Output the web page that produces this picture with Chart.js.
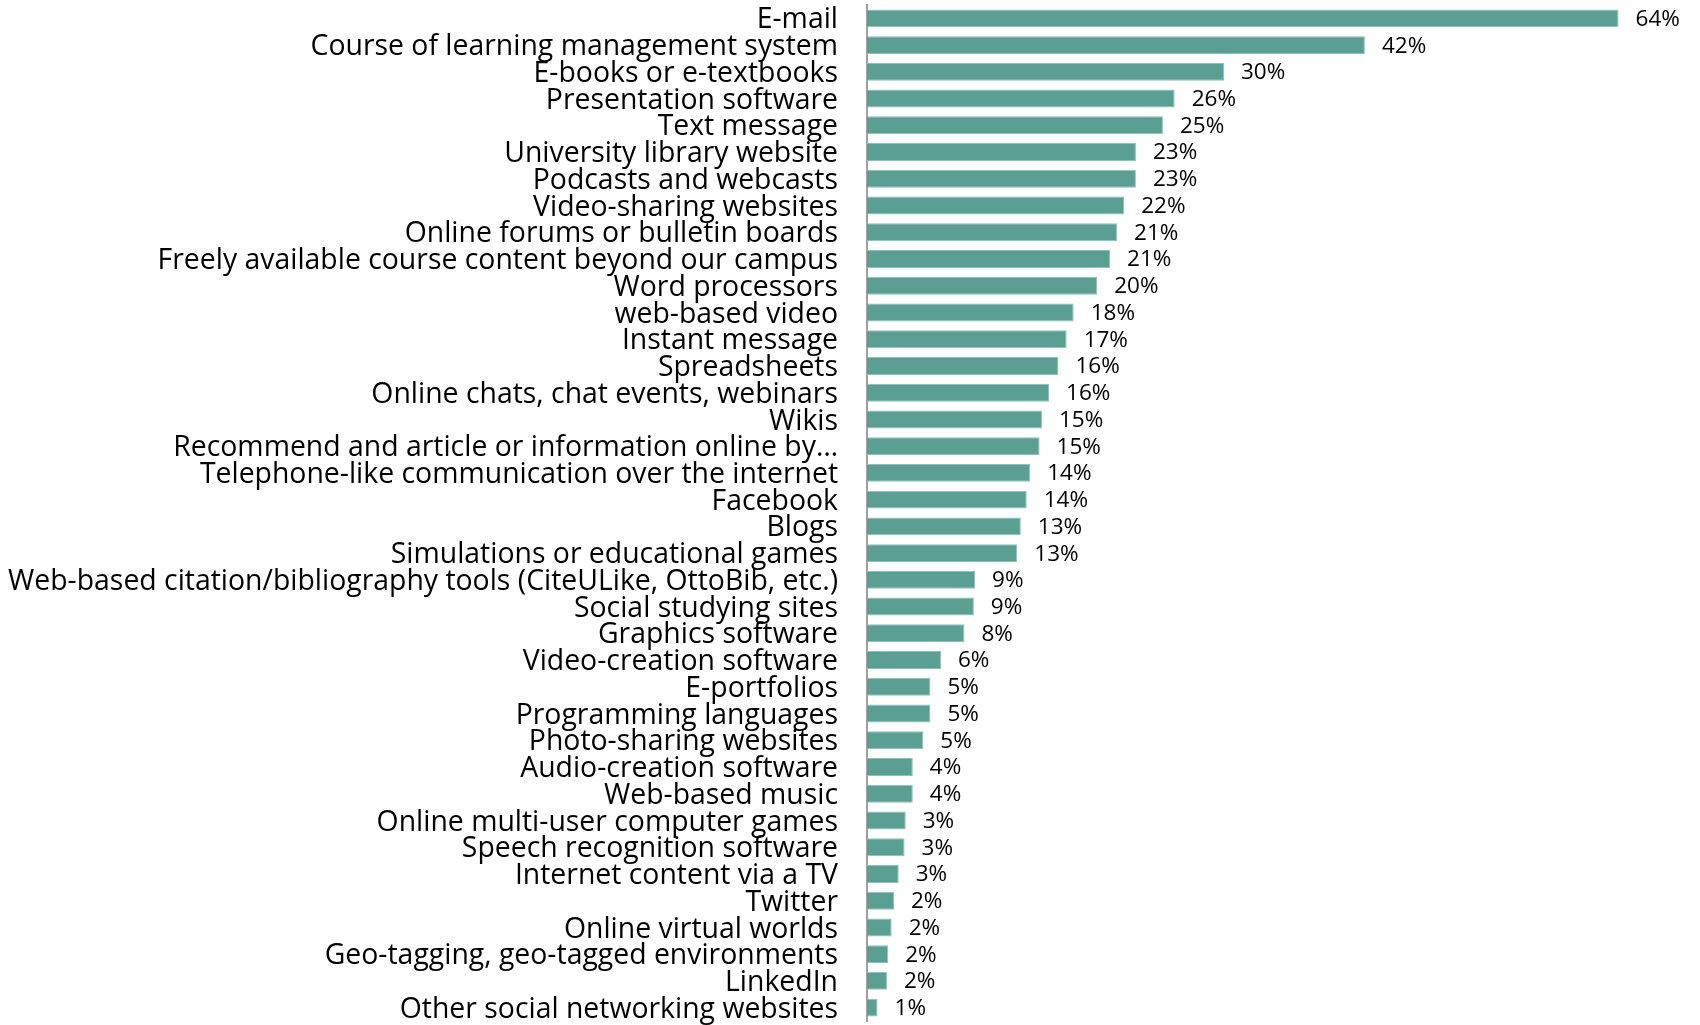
<!DOCTYPE html>
<html>
<head>
<meta charset="utf-8">
<script src="https://cdn.jsdelivr.net/npm/chart.js@4"></script>
<style>
html,body{margin:0;padding:0;background:#fff;}
#wrap{width:1700px;height:1025px;position:relative;}
</style>
</head>
<body>
<div id="wrap"><canvas id="c"></canvas></div>
<script>
const categories = [
"E-mail","Course of learning management system","E-books or e-textbooks","Presentation software",
"Text message","University library website","Podcasts and webcasts","Video-sharing websites",
"Online forums or bulletin boards","Freely available course content beyond our campus","Word processors",
"web-based video","Instant message","Spreadsheets","Online chats, chat events, webinars","Wikis",
"Recommend and article or information online by…","Telephone-like communication over the internet",
"Facebook","Blogs","Simulations or educational games",
"Web-based citation/bibliography tools (CiteULike, OttoBib, etc.)","Social studying sites",
"Graphics software","Video-creation software","E-portfolios","Programming languages",
"Photo-sharing websites","Audio-creation software","Web-based music","Online multi-user computer games",
"Speech recognition software","Internet content via a TV","Twitter","Online virtual worlds",
"Geo-tagging, geo-tagged environments","LinkedIn","Other social networking websites"
];
const values = [64,42.4,30.4,26.2,25.2,22.9,22.9,21.9,21.3,20.7,19.6,17.6,17.0,16.3,15.5,14.9,14.7,13.9,13.6,13.1,12.8,9.2,9.1,8.3,6.3,5.4,5.4,4.8,3.9,3.9,3.3,3.2,2.7,2.3,2.1,1.8,1.7,0.9];
const valueLabels = ["64%","42%","30%","26%","25%","23%","23%","22%","21%","21%","20%","18%","17%","16%","16%","15%","15%","14%","14%","13%","13%","9%","9%","8%","6%","5%","5%","5%","4%","4%","3%","3%","3%","2%","2%","2%","2%","1%"];

const labelFont = "'Open Sans', sans-serif";

const valueLabelPlugin = {
  id: 'valueLabels',
  afterDatasetsDraw(chart) {
    const ctx = chart.ctx;
    const meta = chart.getDatasetMeta(0);
    ctx.save();
    ctx.font = '22.5px ' + labelFont;
    ctx.fillStyle = '#000';
    ctx.textAlign = 'left';
    ctx.textBaseline = 'middle';
    meta.data.forEach((bar, i) => {
      ctx.fillText(valueLabels[i], bar.x + 17, bar.y + 1);
    });
    ctx.restore();
  }
};

new Chart(document.getElementById('c'), {
  type: 'bar',
  data: {
    labels: categories,
    datasets: [{
      data: values,
      backgroundColor: '#5b9f93',
      borderColor: '#8fc2b8',
      borderWidth: 1,
      barPercentage: 0.67,
      categoryPercentage: 1.0
    }]
  },
  options: {
    indexAxis: 'y',
    responsive: true,
    maintainAspectRatio: false,
    animation: false,
    layout: { padding: { top: 5, bottom: 4, right: 11, left: 0 } },
    plugins: { legend: { display: false }, tooltip: { enabled: false } },
    scales: {
      x: {
        display: false,
        min: 0, max: 70
      },
      y: {
        grid: { display: false, drawTicks: false },
        border: { display: true, color: '#a0a0a0', width: 2 },
        ticks: {
          color: '#000',
          padding: 29,
          labelOffset: 2,
          autoSkip: false,
          font: { family: labelFont, size: 28.4 }
        },
        afterFit(scale) {
          scale.width = 867;
          scale.paddingTop = 0;
          scale.paddingBottom = 0;
        }
      }
    }
  },
  plugins: [valueLabelPlugin]
});
</script>
</body>
</html>
